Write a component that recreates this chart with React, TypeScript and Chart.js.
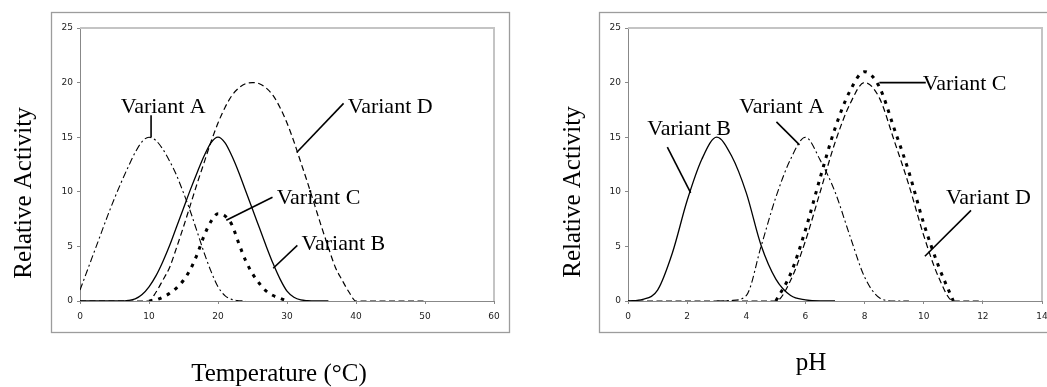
import React, { useEffect, useRef } from "react";
import { Chart, registerables } from "chart.js";

Chart.register(...registerables);

// ---------- Temperature chart data ----------
const tempX = [
  0, 1, 2, 3, 4, 5, 6, 7, 8, 9, 10, 11, 12, 13, 14, 15, 16, 17, 18, 19, 20, 21, 22, 23, 24, 25,
  26, 27, 28, 29, 30, 31, 32, 33, 34, 35, 36, 37, 38, 39, 40, 41, 42, 43, 44, 45, 46, 47, 48, 49, 50,
];
const tempA = [
  1.0, 2.7, 4.4, 6.1, 7.8, 9.4, 10.9, 12.3, 13.6, 14.6, 15.0, 14.7, 13.9, 12.8, 11.5, 9.9, 8.2, 6.3,
  4.4, 2.7, 1.3, 0.5, 0.15, 0.03, 0,
  null, null, null, null, null, null, null, null, null, null, null, null, null,
  null, null, null, null, null, null, null, null, null, null, null, null, null,
];
const tempB = [
  0, 0, 0, 0, 0, 0, 0, 0.05, 0.2, 0.6, 1.3, 2.3, 3.6, 5.1, 6.8, 8.5, 10.2, 11.8, 13.3, 14.5, 15,
  14.5, 13.3, 11.8, 10.1, 8.4, 6.7, 5.0, 3.4, 2.0, 0.9, 0.35, 0.1, 0.03, 0, 0, 0,
  null, null, null, null, null, null, null, null, null, null, null, null, null, null,
];
const tempC = [
  null, null, null, null, null, null, null, null, null, null,
  0, 0.1, 0.35, 0.7, 1.2, 1.9, 2.9, 4.3, 6.0, 7.3, 8.0, 7.8, 7.0, 5.3, 3.7, 2.5, 1.6, 0.9, 0.5,
  0.25, 0,
  null, null, null, null, null, null, null, null, null, null,
  null, null, null, null, null, null, null, null, null, null,
];
const tempD = [
  0, 0, 0, 0, 0, 0, 0, 0, 0, 0, 0,
  0.8, 1.9, 3.1, 4.9, 6.8, 8.8, 10.8, 12.7, 14.6, 16.3, 17.7, 18.8, 19.5, 19.9, 20, 19.9, 19.5,
  18.8, 17.7, 16.3, 14.6, 12.7, 10.8, 8.8, 6.8, 4.9, 3.1, 1.9, 0.8,
  0, 0, 0, 0, 0, 0, 0, 0, 0, 0, 0,
];

// ---------- pH chart data ----------
const phX = [
  0, 0.5, 1, 1.5, 2, 2.5, 3, 3.5, 4, 4.5, 5, 5.5, 6, 6.5, 7, 7.5, 8, 8.5, 9, 9.5, 10, 10.5, 11,
  11.5, 12, 12.5, 13, 13.5, 14,
];
const phA = [
  null, null, null, null, null, null,
  0, 0.05, 0.5, 5.0, 9.5, 13.0, 15, 12.9, 10.0, 6.0, 2.2, 0.3, 0, 0,
  null, null, null, null, null, null, null, null, null,
];
const phB = [
  0, 0.15, 1.0, 4.4, 9.2, 13.0, 15, 13.3, 9.9, 5.1, 2.0, 0.5, 0.1, 0, 0,
  null, null, null, null, null, null, null, null, null, null, null, null, null, null,
];
const phC = [
  null, null, null, null, null, null, null, null, null, null,
  0, 2.5, 6.5, 11.3, 15.8, 19.2, 21, 19.6, 15.8, 11.8, 7.1, 3.2, 0,
  null, null, null, null, null, null,
];
const phD = [
  0, 0, 0, 0, 0, 0, 0, 0, 0, 0, 0,
  1.9, 5.5, 10.0, 14.5, 18.0, 20, 18.6, 14.7, 10.6, 6.0, 2.2, 0, 0, 0,
  null, null, null, null,
];

const yTicksMax = 25;
const yTickStep = 5;
const tempXMax = 60;
const tempXStep = 10;
const phXMax = 14;
const phXStep = 2;

// annotation labels (data coordinates)
const tempNotes = [
  { text: "Variant A", x: 5.9, y: 17.2, from: [10.3, 17.0], to: [10.3, 15.0] },
  { text: "Variant D", x: 38.8, y: 17.2, from: [38.2, 18.1], to: [31.4, 13.6] },
  { text: "Variant C", x: 28.5, y: 8.9, from: [27.9, 9.5], to: [21.2, 7.4] },
  { text: "Variant B", x: 32.1, y: 4.7, from: [31.5, 5.1], to: [28.0, 3.0] },
];
const phNotes = [
  { text: "Variant B", x: 0.65, y: 15.2, from: [1.33, 14.1], to: [2.12, 9.9] },
  { text: "Variant A", x: 3.76, y: 17.2, from: [5.02, 16.4], to: [5.8, 14.3] },
  { text: "Variant C", x: 9.97, y: 19.3, from: [8.5, 20.0], to: [10.07, 20.0] },
  { text: "Variant D", x: 10.75, y: 8.9, from: [11.6, 8.3], to: [10.04, 4.1] },
];

type Series = { label: string; values: (number | null)[]; width: number; dash: number[] };

const styleA = { width: 1.1, dash: [7, 3, 2, 3] };
const styleB = { width: 1.3, dash: [] as number[] };
const styleC = { width: 3, dash: [3.5, 6] };
const styleD = { width: 1.2, dash: [6, 3.5] };

function makeSeries(a: (number | null)[], b: (number | null)[], c: (number | null)[], d: (number | null)[]): Series[] {
  return [
    { label: "Variant A", values: a, ...styleA },
    { label: "Variant B", values: b, ...styleB },
    { label: "Variant C", values: c, ...styleC },
    { label: "Variant D", values: d, ...styleD },
  ];
}

type Props = {
  left: number;
  width: number;
  height: number;
  xs: number[];
  series: Series[];
  xMax: number;
  xStep: number;
  notes: typeof tempNotes;
  plot: { left: number; right: number; top: number; bottom: number };
  box: { x: number; y: number; w: number; h: number };
  xTitle: string;
  xTitlePos: { x: number; y: number };
  yTitle: string;
  yTitlePos: { x: number; y: number };
};

function LineChart(p: Props) {
  const ref = useRef<HTMLCanvasElement>(null);
  useEffect(() => {
    if (!ref.current) return;
    const decor = {
      id: "decor",
      beforeDatasetsDraw(chart: any) {
        const ctx = chart.ctx as CanvasRenderingContext2D;
        const { left, right, top, bottom } = chart.chartArea;
        ctx.save();
        ctx.strokeStyle = "#c4c4c4";
        ctx.lineWidth = 2;
        ctx.beginPath();
        ctx.moveTo(left, top);
        ctx.lineTo(right, top);
        ctx.lineTo(right, bottom);
        ctx.stroke();
        ctx.restore();
      },
      afterDraw(chart: any) {
        const ctx = chart.ctx as CanvasRenderingContext2D;
        const xs = chart.scales.x;
        const ys = chart.scales.y;
        ctx.save();
        ctx.strokeStyle = "#9c9c9c";
        ctx.lineWidth = 1.3;
        ctx.strokeRect(p.box.x + 0.5, p.box.y + 0.5, p.box.w, p.box.h);
        ctx.fillStyle = "#000";
        ctx.textBaseline = "alphabetic";
        ctx.textAlign = "center";
        ctx.font = '25px "Liberation Serif"';
        ctx.fillText(p.xTitle, p.xTitlePos.x, p.xTitlePos.y);
        ctx.save();
        ctx.translate(p.yTitlePos.x, p.yTitlePos.y);
        ctx.rotate(-Math.PI / 2);
        ctx.fillText(p.yTitle, 0, 0);
        ctx.restore();
        ctx.font = '22px "Liberation Serif"';
        ctx.textAlign = "left";
        ctx.strokeStyle = "#000";
        ctx.lineWidth = 1.6;
        for (const n of p.notes) {
          ctx.fillText(n.text, xs.getPixelForValue(n.x), ys.getPixelForValue(n.y));
          ctx.beginPath();
          ctx.moveTo(xs.getPixelForValue(n.from[0]), ys.getPixelForValue(n.from[1]));
          ctx.lineTo(xs.getPixelForValue(n.to[0]), ys.getPixelForValue(n.to[1]));
          ctx.stroke();
        }
        ctx.restore();
      },
    };
    const tickFont = { family: '"DejaVu Sans", Verdana, sans-serif', size: 9 };
    const chart = new Chart(ref.current, {
      type: "line",
      data: {
        datasets: p.series.map((s) => ({
          label: s.label,
          data: p.xs
            .map((x, i) => (s.values[i] == null ? null : { x, y: s.values[i] as number }))
            .filter((v) => v !== null) as { x: number; y: number }[],
          borderColor: "#000",
          borderWidth: s.width,
          borderDash: s.dash,
          borderCapStyle: "butt",
          pointRadius: 0,
          fill: false,
          cubicInterpolationMode: "monotone",
        })),
      },
      options: {
        responsive: false,
        animation: false,
        layout: { padding: { left: 0, top: p.plot.top, right: p.width - p.plot.right, bottom: 0 } },
        plugins: { legend: { display: false }, tooltip: { enabled: false } },
        scales: {
          x: {
            type: "linear",
            min: 0,
            max: p.xMax,
            ticks: { stepSize: p.xStep, font: tickFont, color: "#222", padding: 7, maxRotation: 0 },
            grid: { drawOnChartArea: false, tickLength: 3, color: "#888" },
            border: { color: "#888", width: 1 },
            afterFit: (s: any) => {
              s.height = p.height - p.plot.bottom;
            },
          },
          y: {
            min: 0,
            max: yTicksMax,
            ticks: { stepSize: yTickStep, font: tickFont, color: "#222", padding: 4 },
            grid: { drawOnChartArea: false, tickLength: 3, color: "#888" },
            border: { color: "#888", width: 1 },
            afterFit: (s: any) => {
              s.width = p.plot.left;
            },
          },
        },
      } as any,
      plugins: [decor],
    });
    return () => chart.destroy();
  }, []);
  return (
    <canvas
      ref={ref}
      width={p.width}
      height={p.height}
      style={{ position: "absolute", left: p.left, top: 0, width: p.width, height: p.height }}
    />
  );
}

export default function App() {
  return (
    <div
      style={{
        position: "fixed",
        left: 0,
        top: 0,
        width: 1047,
        height: 387,
        overflow: "hidden",
        background: "#fff",
      }}
    >
      <LineChart
        left={0}
        width={520}
        height={387}
        xs={tempX}
        series={makeSeries(tempA, tempB, tempC, tempD)}
        xMax={tempXMax}
        xStep={tempXStep}
        notes={tempNotes}
        plot={{ left: 80, right: 494, top: 28, bottom: 301 }}
        box={{ x: 51, y: 12, w: 458, h: 320 }}
        xTitle="Temperature (°C)"
        xTitlePos={{ x: 279, y: 381 }}
        yTitle="Relative Activity"
        yTitlePos={{ x: 31, y: 193 }}
      />
      <LineChart
        left={520}
        width={560}
        height={387}
        xs={phX}
        series={makeSeries(phA, phB, phC, phD)}
        xMax={phXMax}
        xStep={phXStep}
        notes={phNotes}
        plot={{ left: 108, right: 522, top: 28, bottom: 301 }}
        box={{ x: 79, y: 12, w: 600, h: 320 }}
        xTitle="pH"
        xTitlePos={{ x: 291, y: 370 }}
        yTitle="Relative Activity"
        yTitlePos={{ x: 60, y: 192 }}
      />
    </div>
  );
}
